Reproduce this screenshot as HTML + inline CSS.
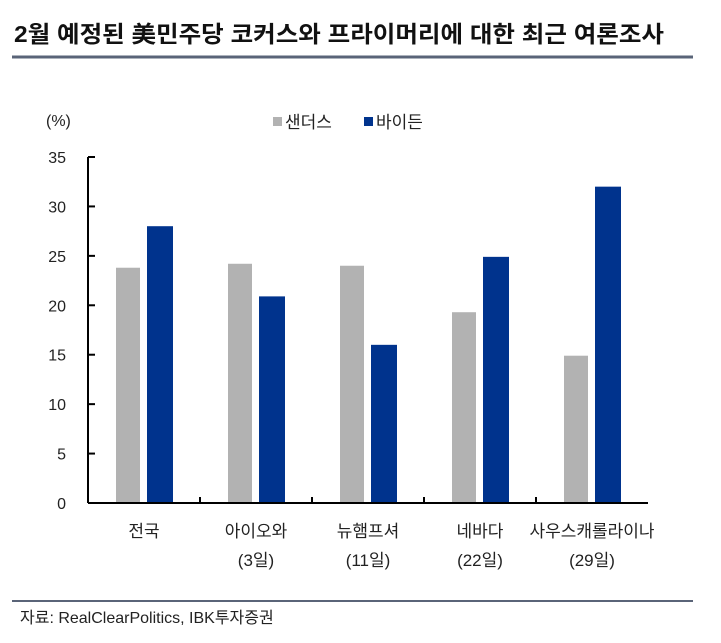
<!DOCTYPE html>
<html><head><meta charset="utf-8"><style>
body{margin:0;background:#fff;width:721px;height:638px;overflow:hidden;font-family:"Liberation Sans","Noto Sans CJK KR",sans-serif;}
svg text{font-family:"Liberation Sans","Noto Sans CJK KR",sans-serif;}
</style></head><body>
<svg id="c" width="721" height="638">
<text x="14" y="42" font-size="23" font-weight="bold" fill="#111" textLength="650" lengthAdjust="spacingAndGlyphs">2월 예정된 美민주당 코커스와 프라이머리에 대한 최근 여론조사</text>
<line x1="12" y1="57" x2="693" y2="57" stroke="#5a6478" stroke-width="3"/>
<text x="46" y="126" font-size="16" fill="#222">(%)</text>
<rect x="273" y="117" width="9" height="9" fill="#b2b2b2"/>
<text x="285" y="128" font-size="17" fill="#222">샌더스</text>
<rect x="364" y="117" width="9" height="9" fill="#00338d"/>
<text x="376" y="128" font-size="17" fill="#222">바이든</text>
<g id="plot"></g>
<line x1="12" y1="601" x2="693" y2="601" stroke="#5a6478" stroke-width="2"/>
<text x="20" y="623" font-size="16" fill="#222" font-family="Liberation Serif,Noto Serif CJK SC,serif">자료: RealClearPolitics, IBK투자증권</text>
</svg>
<script>
const categories=["전국","아이오와","뉴햄프셔","네바다","사우스캐롤라이나"];
const subLabels=["","(3일)","(11일)","(22일)","(29일)"];
const sanders=[23.8,24.2,24.0,19.3,14.9];
const biden=[28.0,20.9,16.0,24.9,32.0];
const yTicks=[0,5,10,15,20,25,30,35];
const NS="http://www.w3.org/2000/svg";
const g=document.getElementById('plot');
const x0=88,x1=648,y0=503,yTop=157,yMax=35;
const band=(x1-x0)/categories.length;
const y=v=>y0-(v/yMax)*(y0-yTop);
function el(t,a){const e=document.createElementNS(NS,t);for(const k in a)e.setAttribute(k,a[k]);g.appendChild(e);return e;}
yTicks.forEach(t=>{
 const l=el('line',{x1:x0,x2:x0+7,y1:y(t),y2:y(t),stroke:'#000','stroke-width':2});
 
 
 const tx=el('text',{x:66,y:y(t)+6,'text-anchor':'end','font-size':16,fill:'#222'});
 tx.textContent=t;
 
 
});
categories.forEach((c,i)=>{
 const cx=x0+band*(i+0.5);
 const b1=el('rect',{x:cx-28,y:y(sanders[i]),width:24,height:y0-y(sanders[i]),fill:'#b2b2b2'});
 
 
 const b2=el('rect',{x:cx+3,y:y(biden[i]),width:26,height:y0-y(biden[i]),fill:'#00338d'});
 
 
 const t1=el('text',{x:cx,y:537,'text-anchor':'middle','font-size':17,fill:'#222'});
 t1.textContent=c;
 
 
 if(subLabels[i]){const t2=el('text',{x:cx,y:566,'text-anchor':'middle','font-size':17,fill:'#222'});
 t2.textContent=subLabels[i];
 
 }
 if(i>0){const tk=el('line',{x1:x0+band*i,x2:x0+band*i,y1:y0,y2:y0-6,stroke:'#000','stroke-width':2});
 
 }
});
const ya=el('line',{x1:x0,x2:x0,y1:yTop,y2:y0,stroke:'#000','stroke-width':2});


const xa=el('line',{x1:x0,x2:x1,y1:y0,y2:y0,stroke:'#000','stroke-width':2});


</script>
</body></html>
